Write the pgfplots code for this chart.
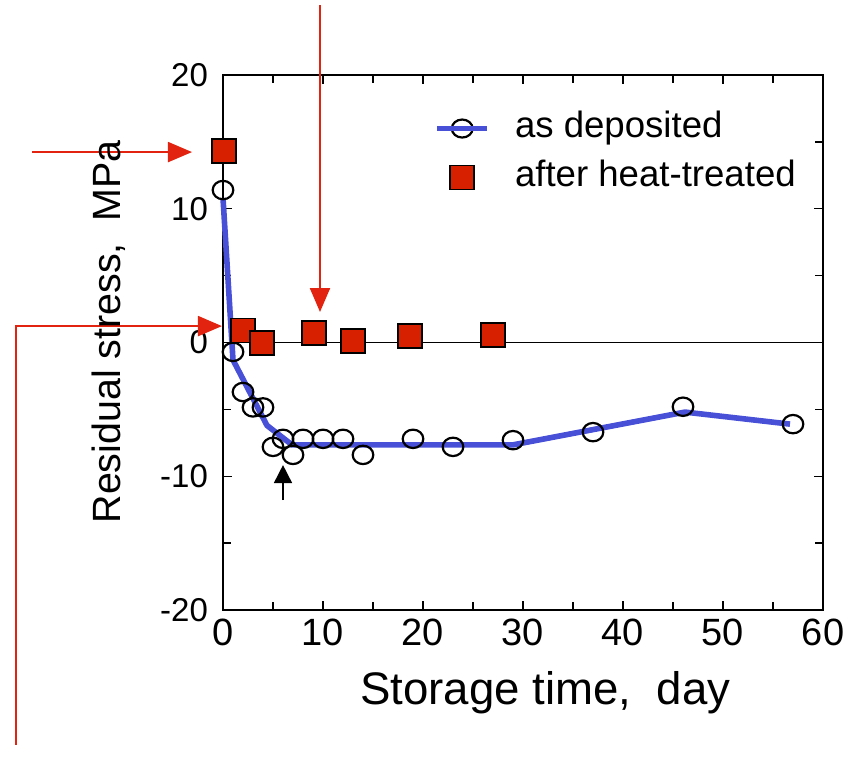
\documentclass[border=0pt]{standalone}
\usepackage{pgfplots}
\pgfplotsset{compat=1.18}
\usepackage{fontspec}
\setmainfont{Liberation Sans}
\usetikzlibrary{arrows.meta}
\definecolor{sqred}{RGB}{215,32,0}
\definecolor{annred}{RGB}{225,35,15}
\definecolor{lineblue}{RGB}{72,80,215}
\begin{document}
\begin{tikzpicture}
\begin{axis}[
  scale only axis, width=300pt, height=267.5pt,
  xmin=0, xmax=60, ymin=-20, ymax=20,
  xtick={0,10,...,60}, ytick={-20,-10,0,10,20},
  minor xtick={5,15,...,55}, minor ytick={-15,-5,5,15},
  tick align=inside, major tick length=4.5pt, minor tick length=4pt,
  axis line style={line width=0.8pt},
  tick style={black, line width=0.7pt},
  clip=false,
  /pgf/number format/assume math mode=true,
  xticklabel style={font=\fontsize{19}{22}\selectfont, yshift=-1pt},
  yticklabel style={font=\fontsize{16.5}{19}\selectfont, xshift=-4pt},
  xlabel={Storage time,\ \ day},
  xlabel style={font=\fontsize{22.8}{26}\selectfont, at={(axis description cs:0.537,0)}, anchor=north, yshift=-27pt},
  ylabel={Residual stress,\ \ MPa},
  ylabel style={font=\fontsize{19.7}{23}\selectfont, at={(axis description cs:-0.15,0.52)}, anchor=south},
  legend style={draw=none, fill=none, at={(axis cs:21.1,17.6)}, anchor=north west, inner sep=0pt,
    font=\fontsize{18.3}{22}\selectfont,
    nodes={inner sep=2pt, text height=13pt, text depth=4pt},
    row sep=3.5pt,
    /tikz/every odd column/.append style={column sep=10.5pt}},
  legend cell align=left,
]
\addlegendimage{legend image code/.code={
  \draw[black,line width=1.1pt] (12.5pt,0pt) ellipse (5.2pt and 4.5pt);
  \draw[lineblue, line width=2.8pt] (0pt,0pt) -- (25pt,0pt);}}
\addlegendentry{as deposited}
\addlegendimage{legend image code/.code={
  \draw[black, fill=sqred, line width=0.8pt] (6.5pt,-6pt) rectangle (18.5pt,6pt);}}
\addlegendentry{after heat-treated}

\draw[black, line width=0.6pt] (axis cs:0,0) -- (axis cs:60,0);

% as deposited: measured points
\addplot[only marks, forget plot, mark=o, mark size=4.6pt,
  mark options={black, line width=1.1pt, xscale=1.12}]
  coordinates {
  (0,11.4) (1,-0.7) (2,-3.7) (3,-4.85) (4,-4.85) (5,-7.8) (6,-7.2)
  (7,-8.4) (8,-7.2) (10,-7.2) (12,-7.2) (14,-8.4) (19,-7.2) (23,-7.8)
  (29,-7.3) (37,-6.7) (46,-4.8) (57,-6.1)
  };
% as deposited: fitted line
\addplot[forget plot, lineblue, line width=2.8pt, no marks]
  coordinates {
  (0,10.8) (1,-1.3) (4.4,-6.2) (6.9,-7.65) (29,-7.65) (46.2,-5.2) (56.7,-6.1)
  };
% after heat-treated
\addplot[only marks, forget plot, mark=square*, mark size=6pt,
  mark options={fill=sqred, draw=black, line width=0.8pt}]
  coordinates {
  (0.1,14.3) (2,0.9) (3.9,-0.05) (9.1,0.7) (13,0.1) (18.7,0.5) (27,0.55)
  };

% annotations
\draw[annred, line width=1pt, -{Triangle[length=12pt,width=10pt]}]
  (axis cs:-19.1,14.24) -- (axis cs:-3.1,14.24);
\draw[annred, line width=1pt, -{Triangle[length=12pt,width=10pt]}]
  (axis cs:9.7,25.23) -- (axis cs:9.7,2.28);
\draw[annred, line width=1pt, -{Triangle[length=12pt,width=10pt]}]
  (axis cs:-20.7,-30.09) -- (axis cs:-20.7,1.23) -- (axis cs:-0.1,1.23);
\draw[black, line width=0.8pt, -{Triangle[length=9pt,width=9pt]}]
  (axis cs:6.0,-11.78) -- (axis cs:6.0,-9.16);

\coordinate (bbsw) at (axis cs:-22.3,-31.14);
\coordinate (bbne) at (axis cs:63.3,25.61);
\end{axis}
\pgfresetboundingbox
\useasboundingbox (bbsw) rectangle (bbne);
\end{tikzpicture}
\end{document}
